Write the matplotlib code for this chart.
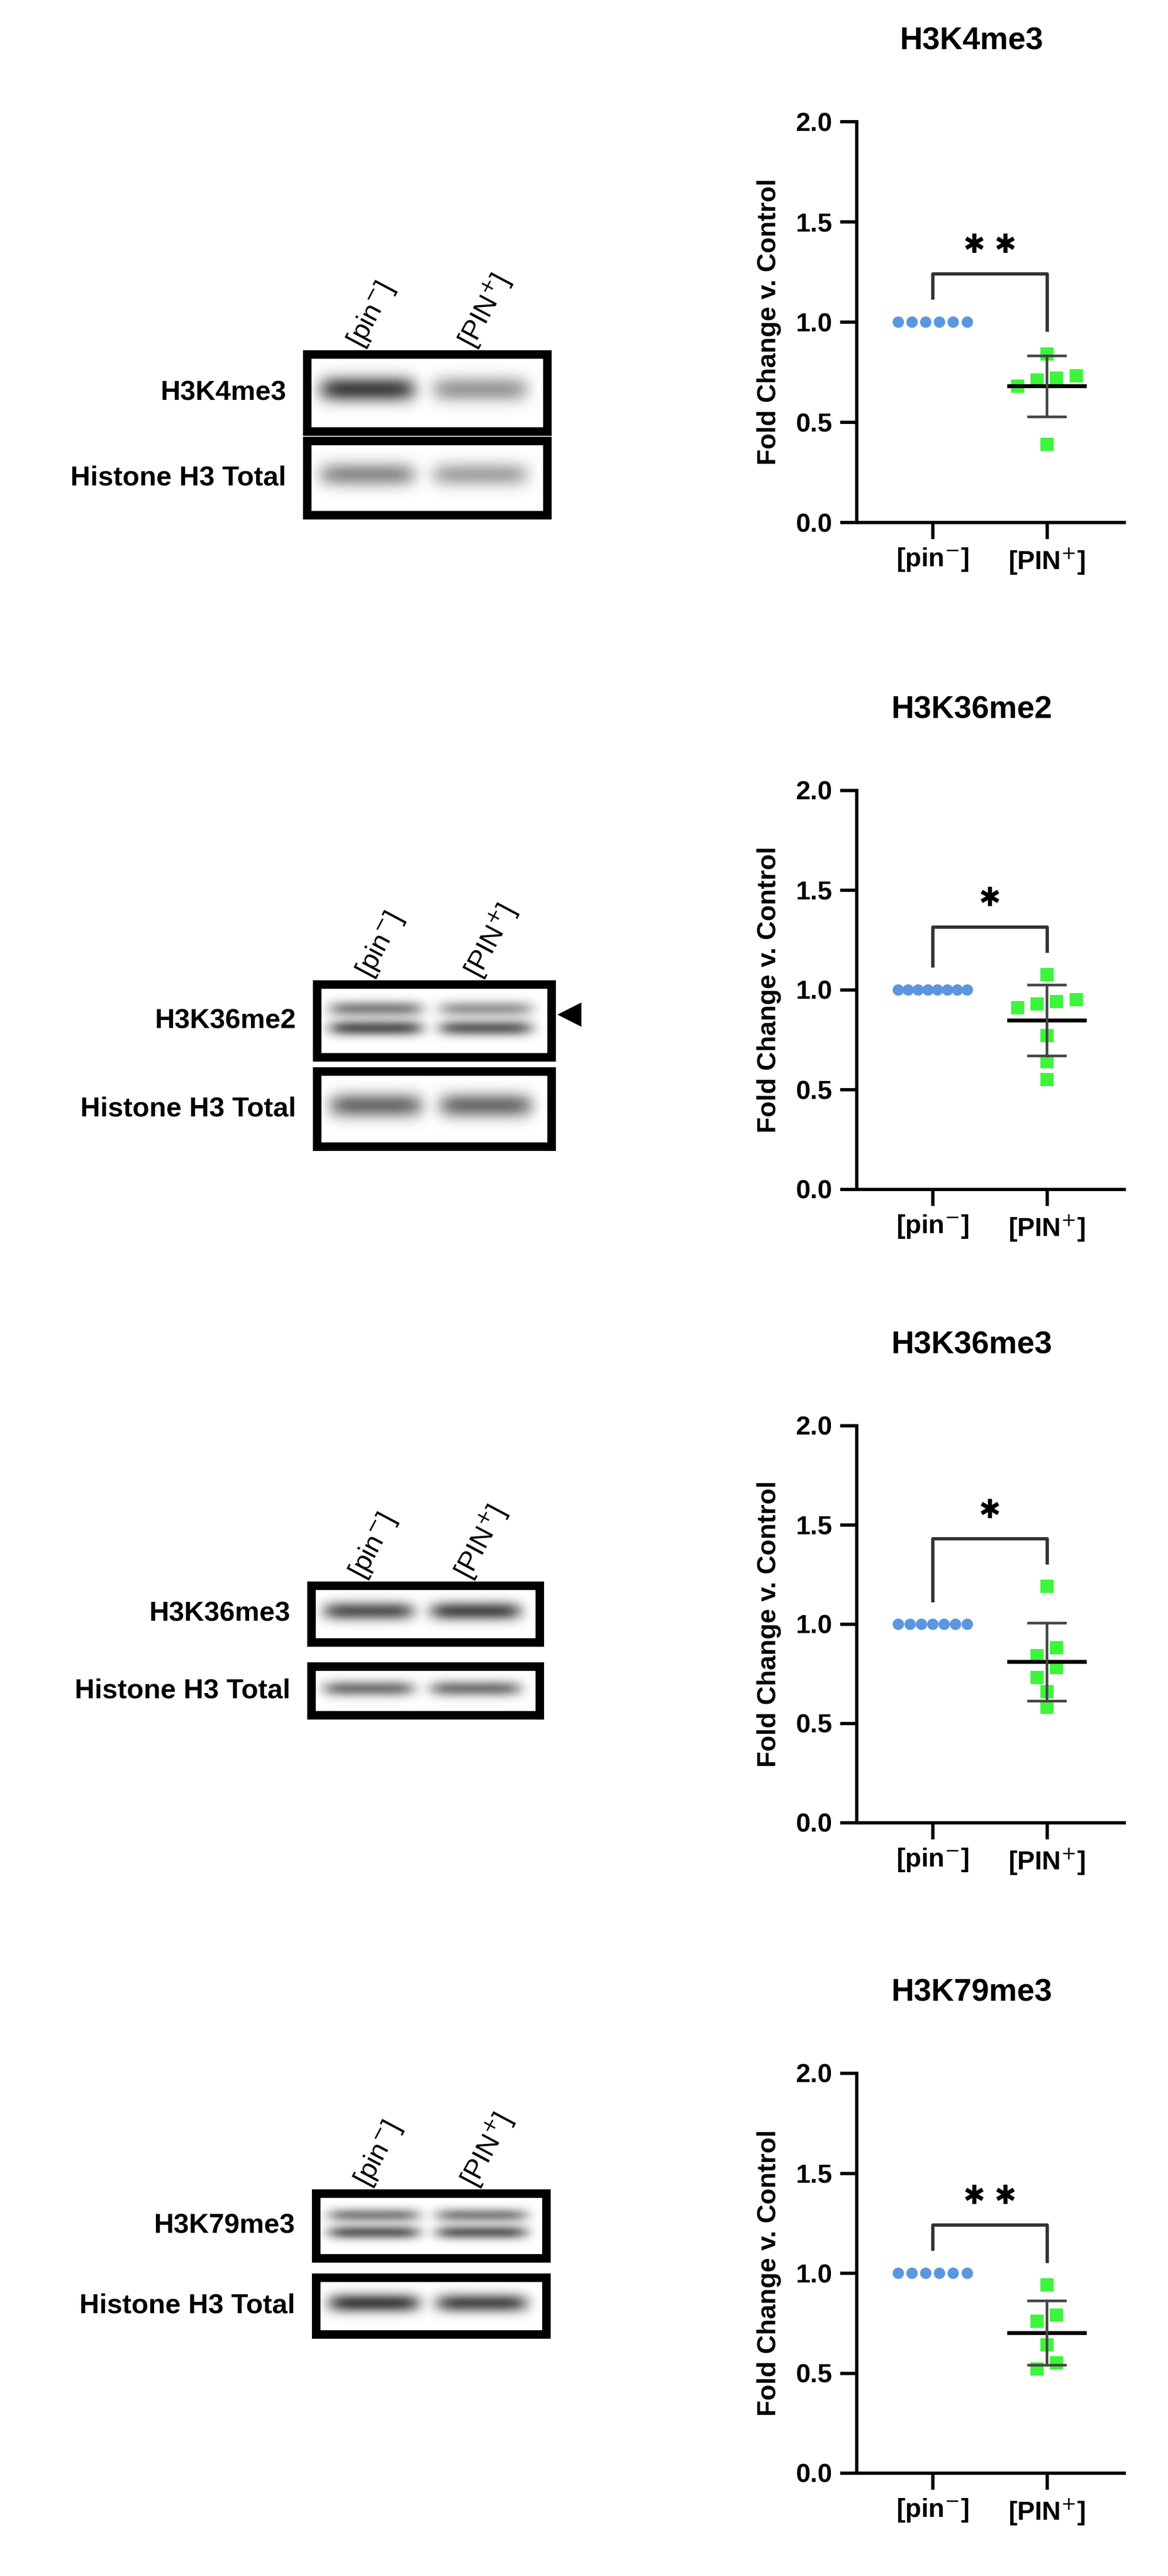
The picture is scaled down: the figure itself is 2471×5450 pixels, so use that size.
import matplotlib
matplotlib.use('Agg')
import matplotlib.pyplot as plt
import numpy as np

plt.rcParams['font.family'] = ['Liberation Sans', 'DejaVu Sans']

W, H = 2471, 5450

# quantification data
titles = ['H3K4me3', 'H3K36me2', 'H3K36me3', 'H3K79me3']
groups = ['[pin$^{-}$]', '[PIN$^{+}$]']
n_control = [6, 8, 7, 6]
pin_plus = [
    [0.84, 0.73, 0.71, 0.68, 0.72, 0.39],
    [1.075, 0.95, 0.91, 0.94, 0.93, 0.77, 0.64, 0.55],
    [1.19, 0.88, 0.84, 0.78, 0.73, 0.66, 0.58],
    [0.94, 0.79, 0.76, 0.64, 0.55, 0.52],
]
stars = ['✱ ✱', '✱', '✱', '✱ ✱']

# western blot band intensities (lane1, lane2) per band row
blot_labels = ['H3K4me3', 'H3K36me2', 'H3K36me3', 'H3K79me3']
mod_bands = [
    [[0.85, 0.45]],
    [[0.55, 0.45], [0.75, 0.7]],
    [[0.75, 0.8]],
    [[0.55, 0.55], [0.7, 0.7]],
]
total_bands = [[0.5, 0.4], [0.65, 0.65], [0.6, 0.6], [0.85, 0.8]]

# layout (pixels, top origin)
ax_rows = [(257, 1105), (1672, 2516), (3016, 3856), (4386, 5232)]
blot_rows = [
    ((650, 1158), (750, 913), (933, 1090)),
    ((671, 1167), (2083, 2237), (2267, 2426)),
    ((659, 1142), (3355, 3475), (3526, 3629)),
    ((669, 1156), (4641, 4778), (4819, 4939)),
]

fig = plt.figure(figsize=(W / 100, H / 100), dpi=100)


def px_axes(x0, y0, x1, y1):
    return fig.add_axes([x0 / W, 1 - y1 / H, (x1 - x0) / W, (y1 - y0) / H])


def swarm(vals, width=0.17, tol=0.06):
    vals = np.asarray(vals)
    order = np.argsort(vals)
    xs = np.zeros(len(vals))
    rows, cur = [], [order[0]]
    for i in order[1:]:
        if abs(vals[i] - vals[cur[0]]) < tol:
            cur.append(i)
        else:
            rows.append(cur)
            cur = [i]
    rows.append(cur)
    for r in rows:
        k = len(r)
        offs = (np.arange(k) - (k - 1) / 2) * width
        for j, idx in enumerate(r):
            xs[idx] = offs[j]
    return xs


def blot_image(bands, doublet):
    rows, cols = 80, 240
    yy = np.linspace(0, 1, rows)[:, None]
    xx = np.linspace(0, 1, cols)[None, :]
    img = np.zeros((rows, cols))
    centres = [0.45] if not doublet else [0.33, 0.6]
    for band, cy in zip(bands, centres):
        for lane, cx in zip(band, [0.25, 0.72]):
            prof_x = np.exp(-((xx - cx) / 0.2) ** 6)
            prof_y = np.exp(-((yy - cy) / (0.17 if not doublet else 0.11)) ** 2)
            img += lane * prof_x * prof_y
    return np.clip(img, 0, 1)


for p in range(4):
    # scatter panel
    top, bot = ax_rows[p]
    ax = px_axes(1812, top, 2378, bot)
    ax.set_ylim(0, 2.0)
    ax.set_xlim(-0.665, 1.674)
    vals = pin_plus[p]
    ctrl = np.ones(n_control[p])
    cx = np.linspace(-0.3, 0.3, n_control[p])
    ax.scatter(cx, ctrl, s=300, color='#5b96e0', marker='o', zorder=3, lw=0)
    gx = 1 + swarm(vals)
    ax.scatter(gx, vals, s=430, color='#3cf53c', marker='s', zorder=3, lw=0)
    m, sd = np.mean(vals), np.std(vals, ddof=1)
    ax.plot([1 - 0.33, 1 + 0.33], [m, m], color='black', lw=6, zorder=4)
    ax.plot([1, 1], [m - sd, m + sd], color='#444444', lw=4, zorder=4)
    ax.plot([1 - 0.16, 1 + 0.16], [m - sd] * 2, color='#444444', lw=4, zorder=4)
    ax.plot([1 - 0.16, 1 + 0.16], [m + sd] * 2, color='#444444', lw=4, zorder=4)
    # significance bracket
    hi = max(vals)
    ytop = max(1.24, hi + 0.24)
    ax.plot([0, 0, 1, 1], [1.12, ytop, ytop, max(0.955, hi + 0.12)],
            color='#333333', lw=5, clip_on=False)
    ax.text(0.5, ytop + 0.14, stars[p], ha='center', va='center', fontsize=40,
            family=['DejaVu Sans'], fontweight='bold')
    ax.spines['top'].set_visible(False)
    ax.spines['right'].set_visible(False)
    for s in ['left', 'bottom']:
        ax.spines[s].set_linewidth(5)
    ax.set_yticks([0, 0.5, 1.0, 1.5, 2.0])
    ax.set_yticklabels(['0.0', '0.5', '1.0', '1.5', '2.0'])
    ax.set_xticks([0, 1])
    ax.set_xticklabels(groups)
    ax.tick_params(length=25, width=5, labelsize=40, pad=12)
    for t in ax.get_xticklabels() + ax.get_yticklabels():
        t.set_fontweight('bold')
    ax.set_ylabel('Fold Change v. Control', fontsize=40, fontweight='bold', labelpad=22)
    ax.set_title(titles[p], fontsize=48, fontweight='bold', pad=110, x=0.43)

    # western blot
    (bx0, bx1), (r1a, r1b), (r2a, r2b) = blot_rows[p]
    doublet = len(mod_bands[p]) > 1
    for (ya, yb), bands, lab, dbl in [((r1a, r1b), mod_bands[p], blot_labels[p], doublet),
                                      ((r2a, r2b), [total_bands[p]], 'Histone H3 Total', False)]:
        bax = px_axes(bx0, ya, bx1, yb)
        bax.imshow(blot_image(bands, dbl), cmap='gray_r', vmin=0, vmax=1.15,
                   aspect='auto', interpolation='bilinear')
        bax.set_xticks([])
        bax.set_yticks([])
        for s in bax.spines.values():
            s.set_linewidth(13)
            s.set_color('black')
        fig.text((bx0 - 45) / W, 1 - ((ya + yb) / 2) / H, lab, ha='right', va='center',
                 fontsize=42, fontweight='bold')
    # lane labels
    for lx, lab in zip([bx0 + 0.2 * (bx1 - bx0), bx0 + 0.66 * (bx1 - bx0)], groups):
        fig.text(lx / W, 1 - (r1a - 20) / H, lab, rotation=62, rotation_mode='anchor',
                 ha='left', va='center', fontsize=42)
    if p == 1:
        tri_y = 1 - ((r1a + r1b) / 2 - 15) / H
        fig.text((bx1 + 12) / W, tri_y, '◀', ha='left', va='center', fontsize=48,
                 family=['DejaVu Sans'])

fig.savefig('out.png', dpi=100, facecolor='white')
